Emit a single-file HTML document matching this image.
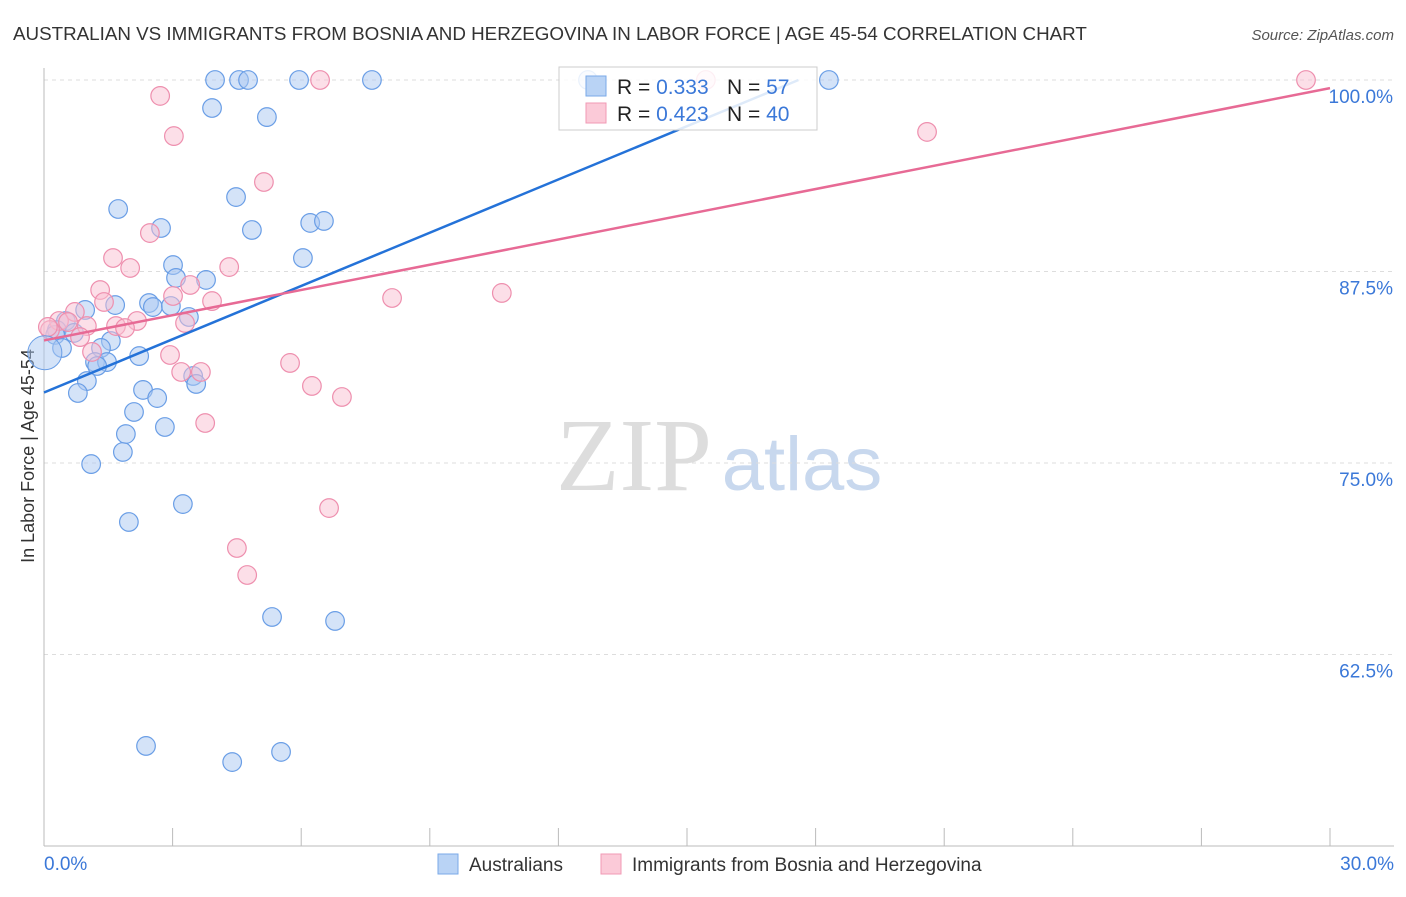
<!DOCTYPE html>
<html><head><meta charset="utf-8"><style>
body{margin:0;background:#fff;font-family:"Liberation Sans",sans-serif;}
</style></head><body>
<svg id="chart" width="1406" height="892" xmlns="http://www.w3.org/2000/svg" font-family="Liberation Sans, sans-serif">
<text x="13" y="40" font-size="18.8" fill="#333">AUSTRALIAN VS IMMIGRANTS FROM BOSNIA AND HERZEGOVINA IN LABOR FORCE | AGE 45-54 CORRELATION CHART</text>
<text x="1394" y="40" font-size="15" fill="#555" text-anchor="end" font-style="italic">Source: ZipAtlas.com</text>
<text transform="translate(34,456) rotate(-90)" font-size="18" fill="#333" text-anchor="middle">In Labor Force | Age 45-54</text>
<g><text x="634" y="490" font-size="104" fill="#ddd" font-family="Liberation Serif, serif" text-anchor="middle">ZIP</text><text x="802" y="490" font-size="76" fill="#c8d8ee" text-anchor="middle">atlas</text></g>
<g id="grid"></g><g id="axes"></g><g id="pts"></g><g id="lines"></g>
<g>
<rect x="559" y="67" width="258" height="63" fill="#fff" fill-opacity="0.85" stroke="#ccc"/>
<rect x="586" y="76" width="20" height="20" fill="#b9d3f5" stroke="#7aaae8"/>
<rect x="586" y="103" width="20" height="20" fill="#fbcad8" stroke="#f09ab5"/>
<text x="617" y="94" font-size="21" fill="#222">R = <tspan fill="#3b78d8">0.333</tspan>  <tspan x="727">N = </tspan><tspan fill="#3b78d8">57</tspan></text>
<text x="617" y="121" font-size="21" fill="#222">R = <tspan fill="#3b78d8">0.423</tspan>  <tspan x="727">N = </tspan><tspan fill="#3b78d8">40</tspan></text>
</g>
<g>
<rect x="438" y="854" width="20" height="20" fill="#b9d3f5" stroke="#7aaae8"/>
<text x="469" y="871" font-size="19" fill="#333">Australians</text>
<rect x="601" y="854" width="20" height="20" fill="#fbcad8" stroke="#f09ab5"/>
<text x="632" y="871" font-size="19" fill="#333">Immigrants from Bosnia and Herzegovina</text>
</g>
</svg>
<script>
const yTicks=[100,87.5,75,62.5];
const yTickLabels=["100.0%","87.5%","75.0%","62.5%"];
const xEnds=["0.0%","30.0%"];
const blueLine=[[0,79.6],[17.6,100]];
const pinkLine=[[0,83.0],[30,99.47]];
const bluePx=[[215,80],[239,80],[248,80],[299,80],[372,80],[829,80],[588,80],[212,108],[267,117],[236,197],[118,209],[161,228],[252,230],[310,223],[324,221],[303,258],[173,265],[176,278],[206,280],[115,305],[149,303],[153,307],[171,306],[85,310],[189,317],[66,321],[57,330],[74,333],[55,335],[111,341],[62,348],[101,348],[139,356],[95,362],[107,362],[97,366],[87,381],[193,376],[196,384],[78,393],[143,390],[157,398],[134,412],[165,427],[126,434],[123,452],[91,464],[183,504],[129,522],[272,617],[335,621],[146,746],[281,752],[232,762]];
const pinkPx=[[1306,80],[320,80],[706,80],[160,96],[174,136],[927,132],[264,182],[150,233],[113,258],[130,268],[229,267],[190,285],[392,298],[502,293],[100,290],[173,296],[212,301],[104,302],[75,312],[59,321],[87,326],[116,326],[137,321],[125,328],[185,323],[80,337],[68,322],[50,330],[92,352],[170,355],[290,363],[181,372],[201,372],[312,386],[342,397],[205,423],[329,508],[237,548],[247,575],[48,327]];
const blueX=bluePx.map(p=>+((p[0]-44)/42.867).toFixed(2)), blueY=bluePx.map(p=>+(100-(p[1]-80)/15.32).toFixed(2));
const pinkX=pinkPx.map(p=>+((p[0]-44)/42.867).toFixed(2)), pinkY=pinkPx.map(p=>+(100-(p[1]-80)/15.32).toFixed(2));
const sx=v=>44+v*42.867, sy=v=>80+(100-v)*15.32;
const NS="http://www.w3.org/2000/svg";
function mk(t,a,p){const e=document.createElementNS(NS,t);for(const k in a)e.setAttribute(k,a[k]);p.appendChild(e);return e;}
const grid=document.getElementById('grid'),axes=document.getElementById('axes'),pts=document.getElementById('pts'),lines=document.getElementById('lines');
yTicks.forEach((t,i)=>{
 const l=mk('line',{x1:44,x2:1394,y1:sy(t),y2:sy(t),stroke:'#ddd','stroke-dasharray':'4,4'},grid);
 
 
 const tx=mk('text',{x:1393,y:sy(t)+23,'font-size':19,fill:'#3b78d8','text-anchor':'end'},grid);tx.textContent=yTickLabels[i];
 
 
});
const ax=mk('line',{x1:44,x2:1394,y1:846,y2:846,stroke:'#bbb'},axes);


const ay=mk('line',{x1:44,x2:44,y1:68,y2:846,stroke:'#bbb'},axes);


for(let i=1;i<=10;i++){const t=mk('line',{x1:sx(i*3),x2:sx(i*3),y1:828,y2:846,stroke:'#bbb'},axes);
 
 }
[[0,'start',44],[1,'end',1394]].forEach(([i,a,x])=>{const t=mk('text',{x:x,y:870,'font-size':19,fill:'#3b78d8','text-anchor':a},axes);t.textContent=xEnds[i];
 
 });
function dots(X,Y,f,s,name){X.forEach((x,i)=>{const c=mk('circle',{cx:sx(x),cy:sy(Y[i]),r:9.3,fill:f,'fill-opacity':0.5,stroke:s,'stroke-width':1.2},pts);
 
 });}
dots(blueX,blueY,'#a9c8f2','#6a9ee6','australians-point');
dots(pinkX,pinkY,'#f9c0d2','#ee8fae','bosnia-immigrants-point');
const big=mk('circle',{cx:sx(0.02),cy:sy(82.2),r:17,fill:'#a9c8f2','fill-opacity':0.5,stroke:'#6a9ee6'},pts);


const bl=mk('line',{x1:sx(blueLine[0][0]),y1:sy(blueLine[0][1]),x2:sx(blueLine[1][0]),y2:sy(blueLine[1][1]),stroke:'#2472d8','stroke-width':2.5},lines);


const pl=mk('line',{x1:sx(pinkLine[0][0]),y1:sy(pinkLine[0][1]),x2:sx(pinkLine[1][0]),y2:sy(pinkLine[1][1]),stroke:'#e76a95','stroke-width':2.5},lines);


</script>
</body></html>
